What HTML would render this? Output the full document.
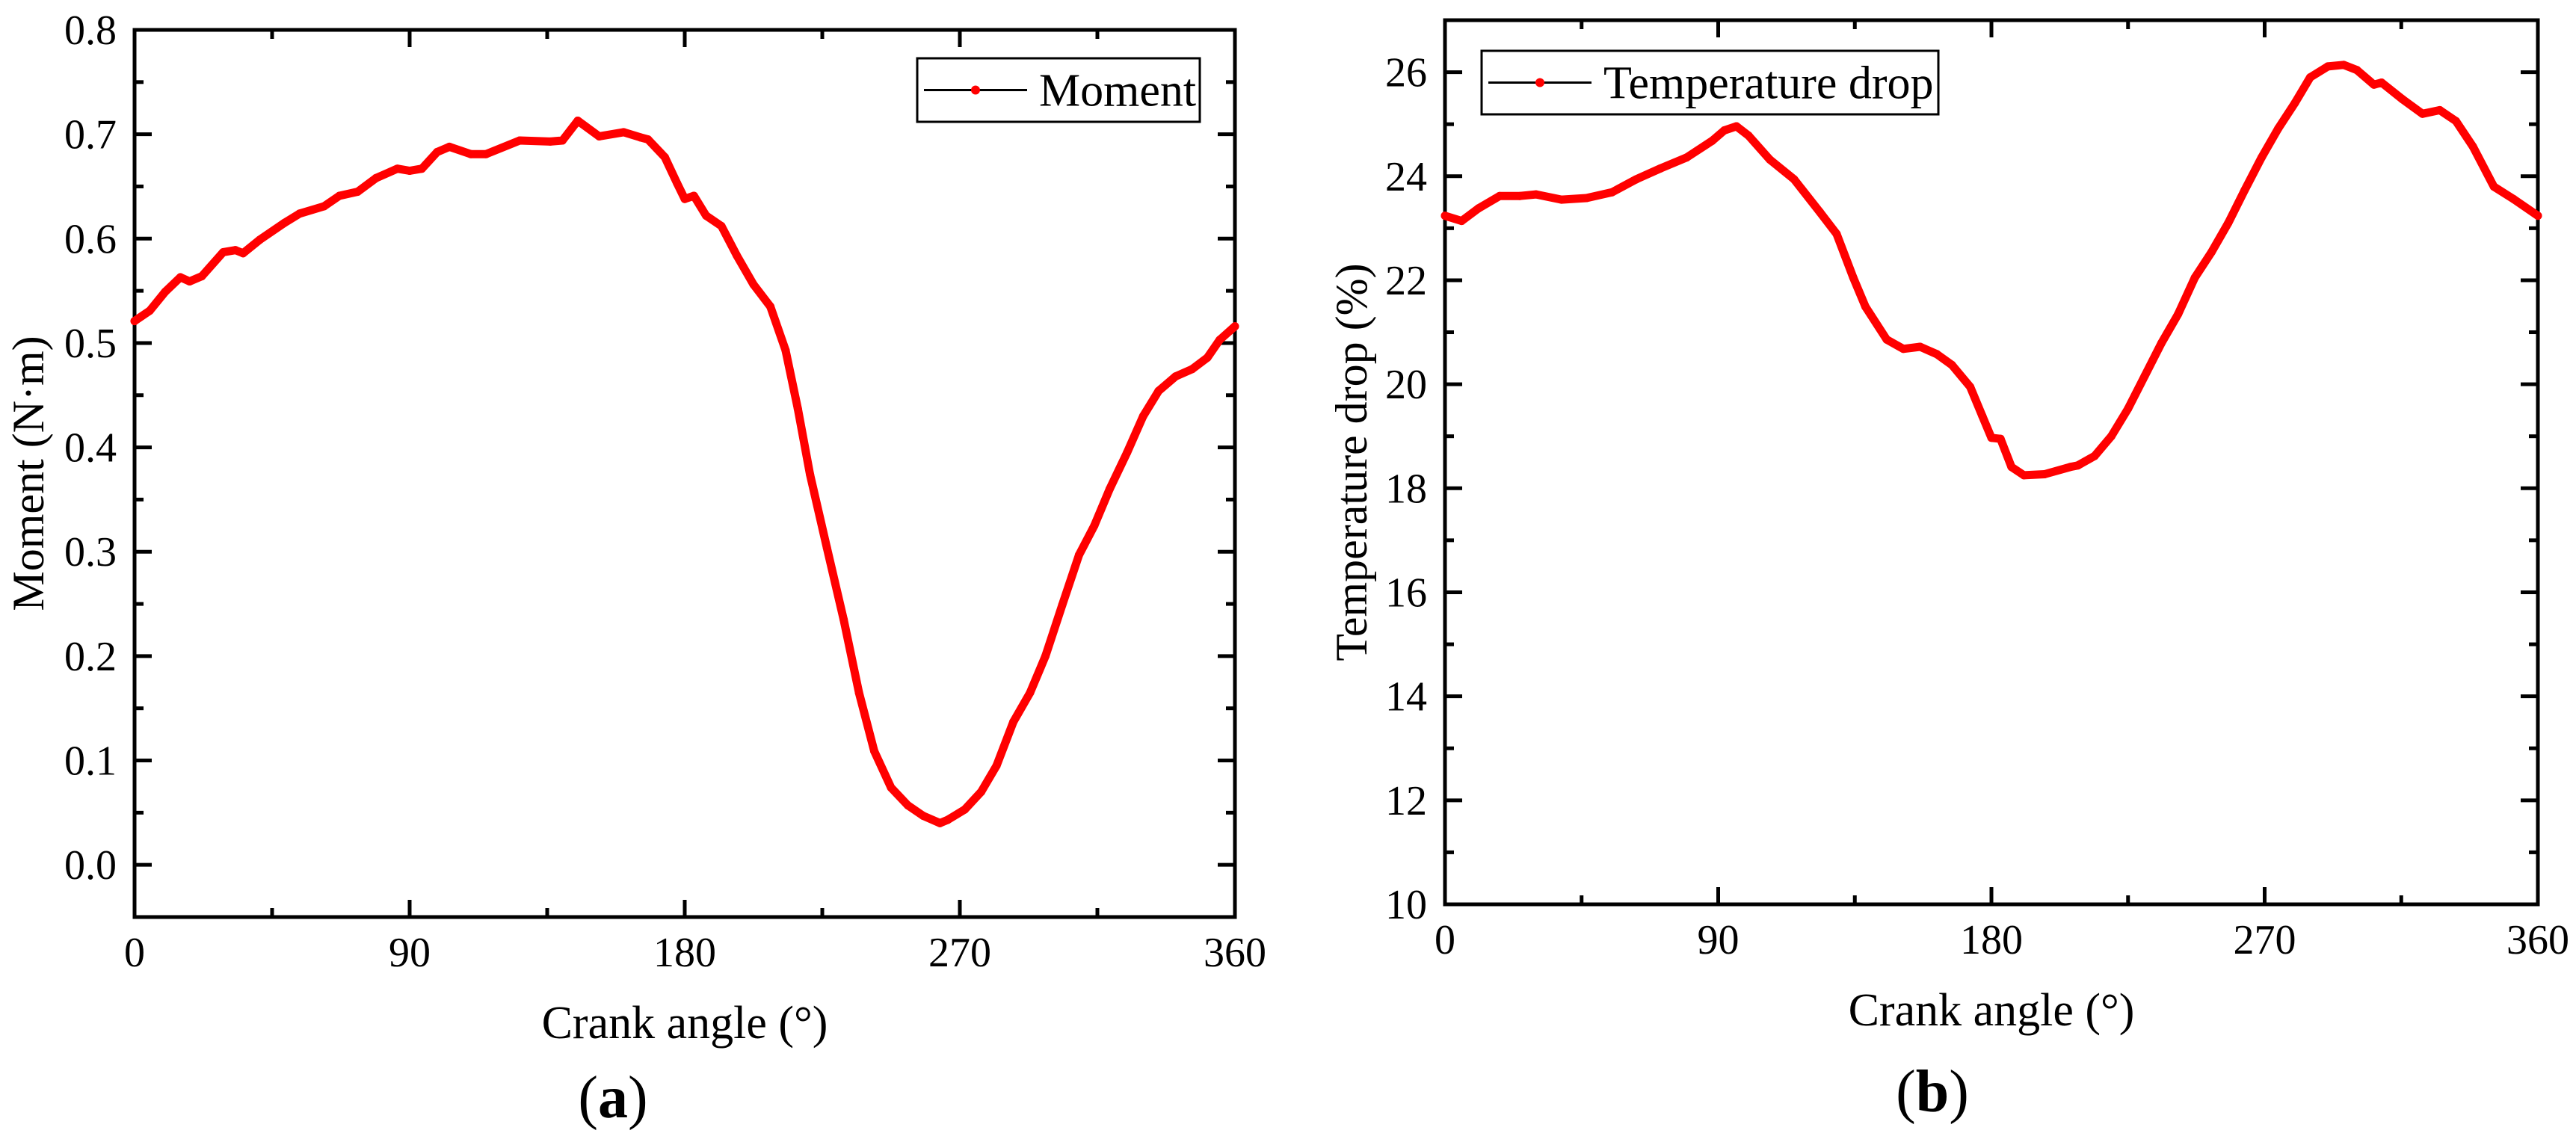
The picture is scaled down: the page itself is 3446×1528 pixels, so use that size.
<!DOCTYPE html>
<html><head><meta charset="utf-8"><style>
html,body{margin:0;padding:0;background:#fff}
svg{display:block}
text{font-family:"Liberation Serif","Times New Roman",serif;fill:#000}
</style></head><body>
<svg id="fig" width="3446" height="1528" xmlns="http://www.w3.org/2000/svg"></svg>
<script>
const momentX=[0,5,10,15,18,22,29,33,35.5,41,49,54,62,67,73,79,86,90,94,99,103,110,115,126,136,140,145,152,160,165.5,168,173.5,177.5,180,183,187,192,197,202.5,208,213,217,221,226.5,232,237,242,247.5,253,258,263.5,266,271.6,277,282,287.5,293,298,303.5,309,314,319,324.7,330,335,340.6,346,351,355,360];
const momentY=[0.521,0.531,0.549,0.563,0.559,0.564,0.587,0.589,0.586,0.599,0.615,0.624,0.631,0.641,0.645,0.658,0.667,0.665,0.667,0.683,0.688,0.681,0.681,0.694,0.693,0.694,0.713,0.698,0.702,0.697,0.695,0.678,0.653,0.638,0.641,0.622,0.612,0.584,0.556,0.535,0.493,0.437,0.374,0.304,0.235,0.165,0.109,0.074,0.057,0.047,0.040,0.043,0.053,0.070,0.095,0.137,0.165,0.200,0.249,0.297,0.325,0.360,0.395,0.430,0.454,0.468,0.475,0.486,0.503,0.516];
const tempX=[0,5.5,11,18,24.7,30,38.4,46.6,55,63,71,79.6,88,92,96,100,107,115,123.5,129,134.5,138.5,145.5,151,156.5,162,167,173,177,180,183,186.6,190.7,197.5,206,208.5,214,219.5,225,230.5,236,241.5,247,252.5,258,263.4,269,274.5,280,285,290.8,296,300.4,306,308.5,315.4,322,327.7,333,338.6,345.5,352,360];
const tempY=[23.24,23.14,23.38,23.62,23.62,23.65,23.55,23.58,23.69,23.94,24.15,24.36,24.68,24.88,24.96,24.78,24.32,23.94,23.31,22.89,22.05,21.49,20.86,20.68,20.72,20.58,20.37,19.95,19.39,18.97,18.95,18.41,18.25,18.27,18.41,18.44,18.62,19.00,19.53,20.16,20.79,21.35,22.05,22.54,23.10,23.73,24.36,24.92,25.41,25.90,26.11,26.14,26.04,25.76,25.80,25.48,25.20,25.27,25.06,24.57,23.80,23.56,23.24];
const xTicks=[0,90,180,270,360];
const momentTicks=[0.0,0.1,0.2,0.3,0.4,0.5,0.6,0.7,0.8];
const tempTicks=[10,12,14,16,18,20,22,24,26];

const NS="http://www.w3.org/2000/svg";
const svg=document.getElementById('fig');
function mk(tag,attrs,parent){const e=document.createElementNS(NS,tag);for(const k in attrs)e.setAttribute(k,attrs[k]);(parent||svg).appendChild(e);return e;}

function panel(cfg){
  const g=mk('g',{});
  
  
  const L=cfg.L,R=cfg.R,T=cfg.T,B=cfg.B;
  const sx=v=>L+(v-0)/360*(R-L);
  const sy=v=>B-(v-cfg.ymin)/(cfg.ymax-cfg.ymin)*(B-T);
  xTicks.forEach((v,i)=>{
    const x=sx(v);
    mk('line',{x1:x,x2:x,y1:B,y2:B-23,stroke:'#000','stroke-width':5},g);
    mk('line',{x1:x,x2:x,y1:T,y2:T+23,stroke:'#000','stroke-width':5},g);
    if(i<xTicks.length-1){const m=sx(v+45);
      mk('line',{x1:m,x2:m,y1:B,y2:B-12,stroke:'#000','stroke-width':5},g);
      mk('line',{x1:m,x2:m,y1:T,y2:T+12,stroke:'#000','stroke-width':5},g);}
    const t=mk('text',{x:x,y:B+66,'font-size':56,'text-anchor':'middle'},g);
    t.textContent=v;
    
    
  });
  cfg.ticks.forEach((v,i)=>{
    const y=sy(v);
    mk('line',{x1:L,x2:L+23,y1:y,y2:y,stroke:'#000','stroke-width':5},g);
    mk('line',{x1:R,x2:R-23,y1:y,y2:y,stroke:'#000','stroke-width':5},g);
    const m=sy(v+cfg.step/2);
    if(m>=T){mk('line',{x1:L,x2:L+12,y1:m,y2:m,stroke:'#000','stroke-width':5},g);
      mk('line',{x1:R,x2:R-12,y1:m,y2:m,stroke:'#000','stroke-width':5},g);}
    const mb=sy(v-cfg.step/2);
    if(i===0&&mb<=B-5){mk('line',{x1:L,x2:L+12,y1:mb,y2:mb,stroke:'#000','stroke-width':5},g);
      mk('line',{x1:R,x2:R-12,y1:mb,y2:mb,stroke:'#000','stroke-width':5},g);}
    const t=mk('text',{x:L-24,y:y+19,'font-size':56,'text-anchor':'end'},g);
    t.textContent=cfg.fmt(v);
    
    
  });
  const fr=mk('rect',{x:L,y:T,width:R-L,height:B-T,fill:'none',stroke:'#000','stroke-width':5},g);
  
  
  const pts=cfg.xs.map((x,i)=>sx(x).toFixed(1)+','+sy(cfg.ys[i]).toFixed(1)).join(' ');
  const pl=mk('polyline',{points:pts,fill:'none',stroke:'#ff0000','stroke-width':11,'stroke-linejoin':'round','stroke-linecap':'round'},g);
  
  
  cfg.xs.forEach((x,i)=>{
    const c=mk('circle',{cx:sx(x),cy:sy(cfg.ys[i]),r:5.5,fill:'#ff0000'},g);
    
    
  });
  const lg=mk('g',{},g);
  
  
  const lb=cfg.leg;
  mk('rect',{x:lb.x,y:lb.y,width:lb.w,height:lb.h,fill:'#fff',stroke:'#000','stroke-width':3},lg);
  const cy=lb.y+lb.h/2;
  mk('line',{x1:lb.x+9,x2:lb.x+147,y1:cy,y2:cy,stroke:'#000','stroke-width':3},lg);
  mk('circle',{cx:lb.x+78,cy:cy,r:6,fill:'#ff0000'},lg);
  const lt=mk('text',{x:lb.x+163,y:cy+21,'font-size':62},lg);
  lt.textContent=cfg.legText;
  
  
  const xt=mk('text',{x:(L+R)/2,y:B+162,'font-size':62,'text-anchor':'middle'},g);
  xt.textContent='Crank angle (°)';
  
  
  const yt=mk('text',{x:0,y:0,'font-size':60,'text-anchor':'middle',transform:'translate('+cfg.ytx+','+((T+B)/2)+') rotate(-90)'},g);
  yt.textContent=cfg.ytitle;
  
  
  const pt=mk('text',{x:cfg.capX,y:cfg.capY,'font-size':80,'text-anchor':'middle'},g);
  pt.innerHTML='(<tspan font-weight="bold">'+cfg.cap+'</tspan>)';
  
  
}
panel({name:'moment-chart',series:'moment',L:180,R:1652,T:40,B:1227,ymin:-0.05,ymax:0.8,ticks:momentTicks,step:0.1,
  fmt:v=>v.toFixed(1),xs:momentX,ys:momentY,leg:{x:1227,y:78,w:378,h:85},legText:'Moment',
  ytitle:'Moment (N·m)',ytx:58,cap:'a',capX:820,capY:1495});
panel({name:'temperature-chart',series:'temperature',L:1933,R:3395,T:27,B:1210,ymin:10,ymax:27,ticks:tempTicks,step:2,
  fmt:v=>String(v),xs:tempX,ys:tempY,leg:{x:1982,y:68,w:611,h:85},legText:'Temperature drop',
  ytitle:'Temperature drop (%)',ytx:1828,cap:'b',capX:2585,capY:1487});
</script>
</body></html>
